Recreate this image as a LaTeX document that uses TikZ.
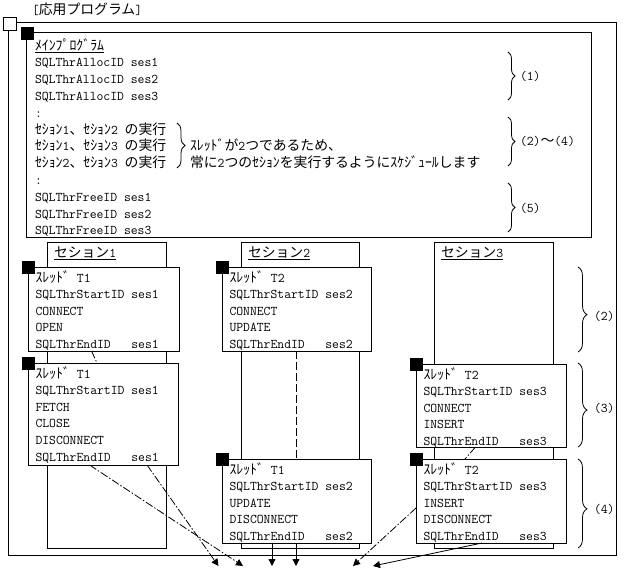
\documentclass[tikz,border=0pt]{standalone}
\usepackage{fontspec}
\newfontfamily\jp{Noto Sans CJK JP}[Scale=1.04]
\usetikzlibrary{arrows.meta,decorations.pathreplacing}
\begin{document}
\begin{tikzpicture}[x=1pt,y=-1pt,
  every node/.style={font=\fontsize{13.3}{16.6}\selectfont\ttfamily, inner sep=0pt, outer sep=0pt},
  frame/.style={draw, line width=1pt, anchor=north west, inner sep=0pt, outer sep=0pt},
  tbox/.style={frame, fill=white},
  blk/.style={draw, fill=black, minimum size=12pt, inner sep=0pt, line width=0.5pt},
  wsq/.style={draw, fill=white, minimum size=13pt, inner sep=0pt, line width=1pt},
  txt/.style={anchor=base west, align=left},
  lab/.style={anchor=west},
  brc/.style={decorate, decoration={brace, amplitude=#1}, line width=0.8pt},
  lbrc/.style={decorate, decoration={brace, amplitude=9pt, aspect=0.56}, line width=0.8pt},
  dd/.style={line width=0.8pt, dash pattern=on 8pt off 2pt on 1.5pt off 2pt},
  dsh/.style={line width=0.8pt, dash pattern=on 8pt off 3pt},
  arr/.style={line width=0.8pt, -{Triangle[length=7pt,width=7pt]}},
]
\fill[white] (0,0) rectangle (625,570);
\useasboundingbox (0,0) rectangle (625,570);

% outer frame
\node[frame, minimum width=608pt, minimum height=533pt] (outer) at (8,22) {};
\node[wsq] (osq) at (9.5,23.5) {};
\node[txt] (title) at (32,15) {[{\jp 応用プログラム}]};

% main program box (multi-line nodes are anchored at the baseline of their last line)
\node[frame, minimum width=565pt, minimum height=205pt] (main) at (26,32) {};
\node[blk] (msq) at (27.5,33) {};
\node[txt, font=\fontsize{13.3}{16.8}\selectfont\ttfamily] (mtext) at (35,234.8) {%
\underline{\jp ﾒｲﾝﾌﾟﾛｸﾞﾗﾑ}\\
SQLThrAllocID ses1\\
SQLThrAllocID ses2\\
SQLThrAllocID ses3\\
:\\
{\jp ｾｼｮﾝ}1{\jp 、ｾｼｮﾝ}2 {\jp の実行}\\
{\jp ｾｼｮﾝ}1{\jp 、ｾｼｮﾝ}3 {\jp の実行}\\
{\jp ｾｼｮﾝ}2{\jp 、ｾｼｮﾝ}3 {\jp の実行}\\
:\\
SQLThrFreeID ses1\\
SQLThrFreeID ses2\\
SQLThrFreeID ses3};
\draw[brc=8pt] (177,123) -- (177,168);
\node[txt, font=\fontsize{13.3}{16.8}\selectfont\ttfamily] (note) at (190,167.6) {%
{\jp ｽﾚｯﾄﾞが}2{\jp つであるため、}\\
{\jp 常に}2{\jp つのｾｼｮﾝを実行するようにｽｹｼﾞｭｰﾙします}};
\draw[brc=7pt] (508,52) -- (508,100);
\draw[brc=7pt] (508,117) -- (508,166);
\draw[brc=7pt] (508,183) -- (508,232);
\node[lab] (lab1) at (520,76) {(1)};
\node[lab] (lab24) at (520,141) {(2){\jp ～}(4)};
\node[lab] (lab5) at (520,208) {(5)};

% lifelines
\node[frame, minimum width=119pt, minimum height=306.5pt] (s1) at (47,242) {};
\node[frame, minimum width=118pt, minimum height=306.5pt] (s2) at (241,242) {};
\node[frame, minimum width=119pt, minimum height=306.5pt] (s3) at (434,242) {};
\node[txt] (s1t) at (54,257) {\underline{{\jp セション}1}};
\node[txt] (s2t) at (248,257) {\underline{{\jp セション}2}};
\node[txt] (s3t) at (441,257) {\underline{{\jp セション}3}};

% thread boxes
\node[tbox, minimum width=151pt, minimum height=84pt] (t1a) at (28,267) {};
\node[tbox, minimum width=150pt, minimum height=102pt] (t1b) at (28,363) {};
\node[tbox, minimum width=149pt, minimum height=84pt] (t2a) at (222,267) {};
\node[tbox, minimum width=149pt, minimum height=84pt] (t1c) at (222,459) {};
\node[tbox, minimum width=150pt, minimum height=83pt] (t2b) at (416,364) {};
\node[tbox, minimum width=150pt, minimum height=84pt] (t2c) at (416,459) {};
\node[blk] (t1asq) at (t1a.north west) {};
\node[blk] (t1bsq) at (t1b.north west) {};
\node[blk] (t2asq) at (t2a.north west) {};
\node[blk] (t1csq) at (t1c.north west) {};
\node[blk] (t2bsq) at (t2b.north west) {};
\node[blk] (t2csq) at (t2c.north west) {};

\node[txt] (t1atx) at (35.5,348.4) {{\jp ｽﾚｯﾄﾞ} T1\\SQLThrStartID ses1\\CONNECT\\OPEN\\SQLThrEndID\ \ \ ses1};
\node[txt] (t1btx) at (35.5,461) {{\jp ｽﾚｯﾄﾞ} T1\\SQLThrStartID ses1\\FETCH\\CLOSE\\DISCONNECT\\SQLThrEndID\ \ \ ses1};
\node[txt] (t2atx) at (229.5,348.4) {{\jp ｽﾚｯﾄﾞ} T2\\SQLThrStartID ses2\\CONNECT\\UPDATE\\SQLThrEndID\ \ \ ses2};
\node[txt] (t1ctx) at (229.5,540.4) {{\jp ｽﾚｯﾄﾞ} T1\\SQLThrStartID ses2\\UPDATE\\DISCONNECT\\SQLThrEndID\ \ \ ses2};
\node[txt] (t2btx) at (423.5,445.4) {{\jp ｽﾚｯﾄﾞ} T2\\SQLThrStartID ses3\\CONNECT\\INSERT\\SQLThrEndID\ \ \ ses3};
\node[txt] (t2ctx) at (423.5,540.4) {{\jp ｽﾚｯﾄﾞ} T2\\SQLThrStartID ses3\\INSERT\\DISCONNECT\\SQLThrEndID\ \ \ ses3};

% lower braces
\draw[lbrc] (578,267) -- (578,352);
\draw[lbrc] (578,363) -- (578,447);
\draw[lbrc] (578,459) -- (578,548);
\node[lab] (lb2) at (594,316) {(2)};
\node[lab] (lb3) at (594,408) {(3)};
\node[lab] (lb4) at (594,509) {(4)};

% connectors
\draw[dd] ([xshift=63.5pt]t1a.south west) -- ([xshift=69pt]t1b.north west);
\draw[dsh] ([xshift=74pt]t2a.south west) -- ([xshift=74pt]t1c.north west);
\draw[dd] ([xshift=59.5pt]t2b.south west) -- ([xshift=49pt]t2c.north west);

\coordinate (e1) at (218.5,566);
\coordinate (e2) at (243,566);
\coordinate (e3) at (272,566);
\coordinate (e4) at (296,566);
\coordinate (e5) at (353,566);
\coordinate (e6) at (373,566);
\coordinate (s5) at (416,508);
\draw[dd, arr] ([xshift=61.5pt]t1b.south west) -- (e2);
\draw[dd, arr] ([xshift=119pt]t1b.south west) -- (e1);
\draw[arr] ([xshift=50pt]t1c.south west) -- (e3);
\draw[arr] ([xshift=74pt]t1c.south west) -- (e4);
\draw[dd, arr] (s5) -- (e5);
\draw[arr] ([xshift=66pt]t2c.south west) -- (e6);
\end{tikzpicture}
\end{document}
